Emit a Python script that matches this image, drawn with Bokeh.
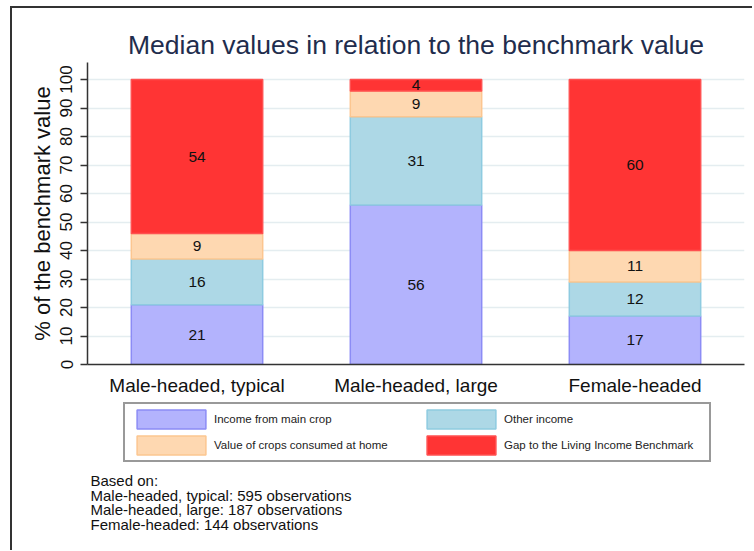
from bokeh.plotting import figure
from bokeh.layouts import column
from bokeh.models import (FactorRange, Range1d, Legend, LegendItem, Label,
                          ColumnDataSource, FixedTicker)
from bokeh.embed import file_html
from bokeh.resources import INLINE
from bokeh.core.properties import value

# ---------------- data ----------------
groups = ["Male-headed, typical", "Male-headed, large", "Female-headed"]
components = ["Income from main crop", "Other income",
              "Value of crops consumed at home", "Gap to the Living Income Benchmark"]
main_crop = [21, 56, 17]
other_income = [16, 31, 12]
consumed_home = [9, 9, 11]
gap_benchmark = [54, 4, 60]
observations = [595, 187, 144]
y_ticks = [0, 10, 20, 30, 40, 50, 60, 70, 80, 90, 100]

title_text = "Median values in relation to the benchmark value"
y_label_text = "% of the benchmark value"

fills = ["#b3b3fd", "#add8e6", "#fed8b1", "#ff3434"]
lines = ["#8c8cf5", "#8ecbe0", "#fcc690", "#ff5050"]
FONT = "Liberation Sans"

keys = ["main", "other", "home", "gap"]
src = ColumnDataSource(dict(group=groups, main=main_crop, other=other_income,
                            home=consumed_home, gap=gap_benchmark))

# ---------------- main chart ----------------
p = figure(x_range=FactorRange(factors=groups), y_range=Range1d(0, 106),
           width=740, height=392, output_backend="svg", toolbar_location=None,
           min_border_left=75, min_border_right=8, min_border_top=54,
           min_border_bottom=36)

p.title.text = title_text
p.title.align = "center"
p.title.text_font = FONT
p.title.text_font_size = "26.5px"
p.title.text_font_style = "normal"
p.title.text_color = "#1f2d4d"
p.title.standoff = 5

p.outline_line_color = None
p.background_fill_color = "white"
p.border_fill_color = "white"

renderers = p.vbar_stack(keys, x="group", width=0.6, source=src,
                         fill_color=fills, line_color=lines, line_width=1.5)

# segment value labels
lx, ly, lt = [], [], []
series = [main_crop, other_income, consumed_home, gap_benchmark]
for i, g in enumerate(groups):
    bottom = 0
    for s in series:
        v = s[i]
        lx.append(g)
        ly.append(bottom + v / 2)
        lt.append(str(v))
        bottom += v
p.text(x="x", y="y", text="t", source=ColumnDataSource(dict(x=lx, y=ly, t=lt)),
       text_align="center", text_baseline="middle", text_font=value(FONT),
       text_font_size="15.5px", text_color="#111111")

# axes
p.yaxis.ticker = FixedTicker(ticks=y_ticks)
p.yaxis.major_label_orientation = "vertical"
p.yaxis.major_label_text_font = FONT
p.yaxis.major_label_text_font_size = "17px"
p.yaxis.major_label_text_color = "#111111"
p.yaxis.axis_line_color = "#333333"
p.yaxis.axis_line_width = 1.5
p.yaxis.major_tick_line_color = "#333333"
p.yaxis.major_tick_line_width = 1.5
p.yaxis.major_tick_out = 7
p.yaxis.major_tick_in = 0
p.yaxis.minor_tick_line_color = None
p.yaxis.major_label_standoff = 8
p.yaxis.axis_label = y_label_text
p.yaxis.axis_label_text_font = FONT
p.yaxis.axis_label_text_font_size = "22px"
p.yaxis.axis_label_text_font_style = "normal"
p.yaxis.axis_label_text_color = "#111111"
p.yaxis.axis_label_standoff = 3

p.xaxis.axis_line_color = "#333333"
p.xaxis.axis_line_width = 1.5
p.xaxis.major_tick_line_color = None
p.xaxis.minor_tick_line_color = None
p.xaxis.major_label_text_font = FONT
p.xaxis.major_label_text_font_size = "19px"
p.xaxis.major_label_text_color = "#111111"
p.xaxis.major_label_standoff = 4

p.xgrid.grid_line_color = None
p.ygrid.ticker = FixedTicker(ticks=y_ticks)
p.ygrid.grid_line_color = "#e4edf0"
p.ygrid.grid_line_width = 1.5

# ---------------- legend + note panel ----------------
H2 = 150
p2 = figure(x_range=FactorRange(factors=groups), y_range=Range1d(0, H2),
            width=740, height=H2, output_backend="svg", toolbar_location=None,
            x_axis_location=None, y_axis_location=None,
            min_border_left=0, min_border_right=0, min_border_top=0,
            min_border_bottom=0)
p2.grid.visible = False
p2.outline_line_color = None
p2.background_fill_color = "white"
p2.border_fill_color = "white"

key_renderers = p2.vbar_stack(keys, x="group", width=0.6, source=src,
                              fill_color=fills, line_color=lines, line_width=1.5)
for r in key_renderers:
    r.visible = False

items = [LegendItem(label=c, renderers=[r]) for c, r in zip(components, key_renderers)]
legend = Legend(items=items, orientation="horizontal", ncols=2,
                location=(36, 88), margin=0, padding=3, spacing=2,
                glyph_width=86, glyph_height=24, label_standoff=0, label_width=202,
                label_text_font=FONT, label_text_font_size="11.5px",
                label_text_color="#222222",
                border_line_color="#333333", border_line_width=2,
                background_fill_color="white", background_fill_alpha=1.0)
p2.add_layout(legend, "center")

note_lines = ["Based on:"] + [f"{g}: {n} observations" for g, n in zip(groups, observations)]
for k, t in enumerate(note_lines):
    p2.add_layout(Label(x=3, y=70 - 14.5 * k, x_units="screen", y_units="screen",
                        text=t, text_font=FONT, text_font_size="15px",
                        text_baseline="alphabetic", text_color="#111111"))

layout = column(p, p2, spacing=0,
                styles={"margin-left": "10px", "margin-top": "6px",
                        "border-left": "2px solid #333", "border-top": "2px solid #333"})

open("out.html", "w").write(file_html(layout, INLINE))
